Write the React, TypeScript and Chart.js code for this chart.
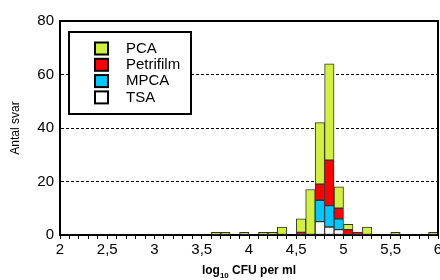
import React, { useEffect, useRef } from 'react';
import { Chart, registerables } from 'chart.js';

Chart.register(...registerables);

// ---- data ----
const binWidth = 0.1;
const binStarts = [3.6, 3.7, 3.9, 4.1, 4.2, 4.3, 4.5, 4.6, 4.7, 4.8, 4.9, 5.0, 5.1, 5.2, 5.5, 5.9];
const pcaValues = [1, 1, 1, 1, 1, 3, 5, 17, 23, 36, 8, 2, 0, 3, 1, 1];
const petrifilmValues = [0, 0, 0, 0, 0, 0, 1, 0, 6, 17, 4, 2, 1, 0, 0, 0];
const mpcaValues = [0, 0, 0, 0, 0, 0, 0, 0, 8, 8, 4, 0, 0, 0, 0, 0];
const tsaValues = [0, 0, 0, 0, 0, 0, 0, 0, 5, 3, 2, 0, 0, 0, 0, 0];
const seriesNames = ['PCA', 'Petrifilm', 'MPCA', 'TSA'];
const seriesColors = ['#d2f03c', '#ff0000', '#00c8ff', '#ffffff'];
const xMin = 2;
const xMax = 6;
const yMin = 0;
const yMax = 80;
const yStep = 20;
const yGridValues = [20, 40, 60];
const yAxisTitle = 'Antal svar';
const xTitleMain = 'log';
const xTitleSub = '10';
const xTitleRest = ' CFU per ml';

const FONT = '"Liberation Sans", Arial, sans-serif';

function points(values: number[]) {
  return binStarts
    .map((s, i) => ({ x: s + binWidth / 2, y: values[i] }))
    .filter((p) => p.y > 0);
}

const decorPlugin = {
  id: 'decor',
  afterDraw(chart: any) {
    const { ctx, chartArea: a } = chart;
    ctx.save();
    // frame (top + right)
    ctx.strokeStyle = '#000';
    ctx.lineWidth = 2;
    ctx.beginPath();
    ctx.moveTo(a.left, a.top);
    ctx.lineTo(a.right, a.top);
    ctx.lineTo(a.right, a.bottom);
    ctx.stroke();

    // legend box
    const bx = a.left + 9;
    const by = a.top + 11;
    const bw = 122;
    const bh = 82;
    ctx.fillStyle = '#fff';
    ctx.fillRect(bx, by, bw, bh);
    ctx.lineWidth = 2;
    ctx.strokeStyle = '#000';
    ctx.strokeRect(bx, by, bw, bh);
    ctx.font = `15px ${FONT}`;
    ctx.textBaseline = 'middle';
    ctx.textAlign = 'left';
    seriesNames.forEach((name, i) => {
      const cy = a.top + 27.5 + i * 16.3;
      const sx = a.left + 35;
      ctx.fillStyle = seriesColors[i];
      ctx.fillRect(sx, cy - 6, 13, 12);
      ctx.strokeStyle = '#000';
      ctx.lineWidth = 2;
      ctx.strokeRect(sx, cy - 6, 13, 12);
      ctx.fillStyle = '#000';
      ctx.fillText(name, a.left + 66, cy);
    });

    // y axis title
    ctx.save();
    ctx.translate(19, (a.top + a.bottom) / 2);
    ctx.rotate(-Math.PI / 2);
    ctx.font = `12px ${FONT}`;
    ctx.textAlign = 'center';
    ctx.textBaseline = 'alphabetic';
    ctx.fillStyle = '#000';
    ctx.fillText(yAxisTitle, 0, 0);
    ctx.restore();

    // x axis title with subscript
    const mainFont = `bold 12px ${FONT}`;
    const subFont = `bold 8px ${FONT}`;
    ctx.font = mainFont;
    const w1 = ctx.measureText(xTitleMain).width;
    const w3 = ctx.measureText(xTitleRest).width;
    ctx.font = subFont;
    const w2 = ctx.measureText(xTitleSub).width;
    const total = w1 + w2 + w3;
    let x = (a.left + a.right) / 2 - total / 2;
    const base = a.bottom + 39;
    ctx.textAlign = 'left';
    ctx.textBaseline = 'alphabetic';
    ctx.fillStyle = '#000';
    ctx.font = mainFont;
    ctx.fillText(xTitleMain, x, base);
    x += w1;
    ctx.font = subFont;
    ctx.fillText(xTitleSub, x, base + 4);
    x += w2;
    ctx.font = mainFont;
    ctx.fillText(xTitleRest, x, base);
    ctx.restore();
  },
};

export default function App() {
  const canvasRef = useRef<HTMLCanvasElement | null>(null);

  useEffect(() => {
    if (!canvasRef.current) return;
    Chart.defaults.font.family = FONT;
    const mk = (label: string, values: number[], color: string) => ({
      label,
      data: points(values),
      backgroundColor: color,
      borderColor: '#333',
      borderWidth: 1,
      borderSkipped: false,
      barPercentage: 1,
      categoryPercentage: 1,
    });
    const chart = new Chart(canvasRef.current, {
      type: 'bar',
      data: {
        datasets: [
          mk(seriesNames[3], tsaValues, seriesColors[3]),
          mk(seriesNames[2], mpcaValues, seriesColors[2]),
          mk(seriesNames[1], petrifilmValues, seriesColors[1]),
          mk(seriesNames[0], pcaValues, seriesColors[0]),
        ] as any,
      },
      options: {
        responsive: false,
        animation: false,
        devicePixelRatio: 1,
        layout: { padding: { left: 0, top: 21, right: 2, bottom: 0 } },
        plugins: {
          legend: { display: false },
          tooltip: { enabled: false },
        },
        scales: {
          x: {
            type: 'linear',
            min: xMin,
            max: xMax,
            offset: false,
            stacked: true,
            ticks: {
              stepSize: binWidth,
              maxTicksLimit: 100,
              autoSkip: false,
              maxRotation: 0,
              minRotation: 0,
              padding: 2,
              color: '#000',
              font: { size: 15 },
              callback: (value: any) => {
                const v = Number(value);
                if (Math.abs(v * 2 - Math.round(v * 2)) < 1e-6) {
                  return String(Math.round(v * 10) / 10).replace('.', ',');
                }
                return '';
              },
            },
            grid: {
              offset: false,
              drawOnChartArea: false,
              drawTicks: true,
              tickLength: 4,
              tickColor: '#000',
              tickWidth: 1,
              color: '#000',
            },
            border: { display: true, color: '#000', width: 2 },
            afterFit: (s: any) => {
              s.height = 45;
              s.paddingLeft = 0;
              s.paddingRight = 0;
            },
          },
          y: {
            type: 'linear',
            min: yMin,
            max: yMax,
            stacked: true,
            ticks: {
              stepSize: yStep,
              padding: 6,
              color: '#000',
              font: { size: 15 },
            },
            grid: {
              drawTicks: false,
              lineWidth: 1,
              color: (c: any) =>
                c.tick && yGridValues.includes(c.tick.value) ? '#000' : 'rgba(0,0,0,0)',
            },
            border: { display: true, color: '#000', width: 2, dash: [3, 2] },
            afterFit: (s: any) => {
              s.width = 60;
            },
          },
        },
      } as any,
      plugins: [decorPlugin],
    });
    return () => chart.destroy();
  }, []);

  return (
    <div style={{ position: 'fixed', left: 0, top: 0, width: 440, height: 280 }}>
      <canvas ref={canvasRef} width={440} height={280} style={{ display: 'block' }} />
    </div>
  );
}
